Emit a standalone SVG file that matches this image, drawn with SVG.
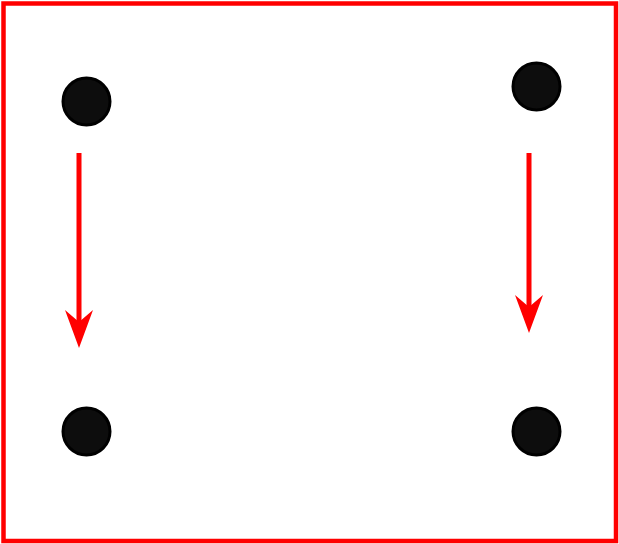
<svg xmlns="http://www.w3.org/2000/svg" width="619" height="544" viewBox="0 0 619 544">
<style>
.node{fill:#0d0d0d;stroke:#000;stroke-width:3}
.edge{stroke:#ff0000;stroke-width:5;fill:none}
.head{fill:#ff0000}
</style>
<rect x="0" y="0" width="619" height="544" fill="#fff"/>
<rect x="3.5" y="3.5" width="612.5" height="537.5" fill="none" stroke="#ff0000" stroke-width="4.5"/>
<g id="n1"><circle class="node" cx="86.5" cy="101.5" r="23.5"/></g>
<g id="n2"><circle class="node" cx="536.5" cy="86.5" r="23.5"/></g>
<g id="n3"><circle class="node" cx="86.5" cy="431.5" r="23.5"/></g>
<g id="n4"><circle class="node" cx="536.5" cy="431.5" r="23.5"/></g>
<g id="connectors">
<line class="edge" x1="79" y1="153" x2="79" y2="325"/>
<path class="head" d="M79,348 L65,310 L79,322 L93,310 Z"/>
<line class="edge" x1="529" y1="153" x2="529" y2="310"/>
<path class="head" d="M529,333 L515,295 L529,307 L543,295 Z"/>
</g>
</svg>
